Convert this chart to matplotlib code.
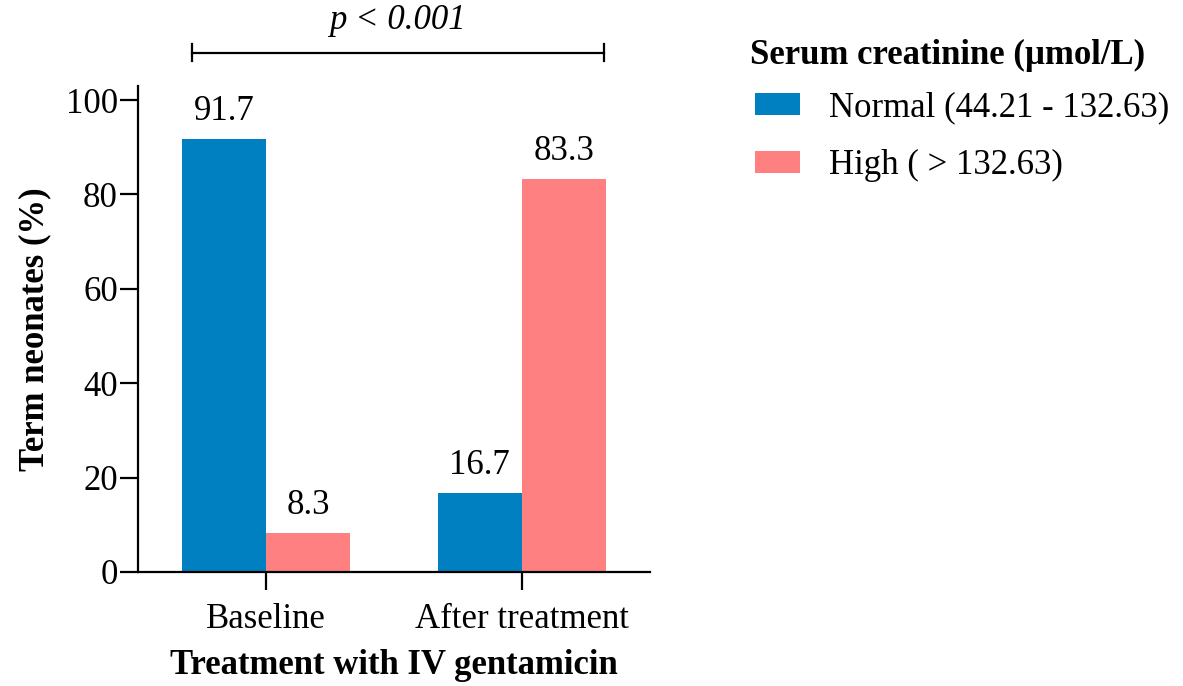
import matplotlib
matplotlib.use("Agg")
import matplotlib.pyplot as plt
import numpy as np

categories = ["Baseline", "After treatment"]
normal = [91.7, 16.7]
high = [8.3, 83.3]
series_labels = ["Normal (44.21 - 132.63)", "High ( > 132.63)"]
legend_title = "Serum creatinine (\u00b5mol/L)"
yticks = [0, 20, 40, 60, 80, 100]

plt.rcParams['font.family'] = ['Liberation Serif', 'DejaVu Serif']
plt.rcParams['font.size'] = 25

fig = plt.figure(figsize=(11.83, 6.86), dpi=100)
ax = fig.add_axes([0.1167, 0.1662, 0.4327, 0.7085])

x = np.arange(len(categories))
w = 0.33
blue = '#0080C0'
pink = '#FF8080'
b1 = ax.bar(x - w/2, normal, w, color=blue, label=series_labels[0])
b2 = ax.bar(x + w/2, high, w, color=pink, label=series_labels[1])

for bars, vals in ((b1, normal), (b2, high)):
    for r, v in zip(bars, vals):
        ax.annotate(f"{v:.1f}", (r.get_x() + r.get_width()/2, v),
                    xytext=(0, 8), textcoords='offset points',
                    ha='center', va='bottom', fontsize=25)

ax.set_xlim(-0.5, 1.5)
ax.set_ylim(0, 103)
ax.set_yticks(yticks)
ax.set_xticks(x)
ax.set_xticklabels(categories)
for s in ['top', 'right']:
    ax.spines[s].set_visible(False)
for s in ['left', 'bottom']:
    ax.spines[s].set_linewidth(1.6)
ax.tick_params(axis='both', length=13, width=1.6, labelsize=25)
ax.tick_params(axis='x', pad=9)
ax.tick_params(axis='y', pad=1.5)
ax.set_ylabel("Term neonates (%)", fontweight='bold', fontsize=25, labelpad=10.5)
ax.set_xlabel("Treatment with IV gentamicin", fontweight='bold', fontsize=25, labelpad=10)

# significance bracket
x0, x1, yb = -0.29, 1.32, 110
ax.plot([x0, x1], [yb, yb], color='black', lw=1.6, clip_on=False)
ax.plot([x0, x0], [yb - 1.8, yb + 1.8], color='black', lw=1.6, clip_on=False)
ax.plot([x1, x1], [yb - 1.8, yb + 1.8], color='black', lw=1.6, clip_on=False)
ax.text((x0 + x1) / 2, yb + 3.3, "p < 0.001", style='italic', ha='center', va='bottom', fontsize=25)

# legend title and entries
fig.text(750 / 1183, 1 - 55 / 686, legend_title, fontweight='bold', fontsize=25,
         ha='left', va='center')
leg = fig.legend(handles=[b1, b2], labels=series_labels,
                 loc='upper left', bbox_to_anchor=(0.638, 0.867), frameon=False,
                 fontsize=25, handlelength=1.3, handleheight=0.6, handletextpad=0.85,
                 labelspacing=0.72, borderaxespad=0, borderpad=0)

fig.savefig("out.png", dpi=100)
